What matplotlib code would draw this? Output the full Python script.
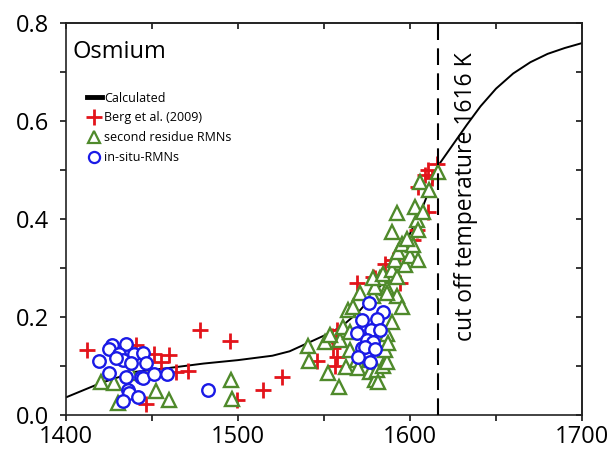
"""
Osmium - fraction vs temperature, calculated curve with measured points.
"""

import matplotlib
matplotlib.use("Agg")
import matplotlib.pyplot as plt
from matplotlib.lines import Line2D
from matplotlib.ticker import MultipleLocator, NullFormatter

plt.rcParams['font.family'] = ['Open Sans', 'DejaVu Sans']

# Calculated curve
calc_t = [1400, 1420, 1440, 1460, 1480, 1500, 1520, 1530, 1540, 1550, 1560,
          1570, 1580, 1590, 1600, 1608, 1617, 1625, 1633, 1641, 1650, 1660,
          1670, 1680, 1690, 1700]
calc_y = [0.036, 0.065, 0.088, 0.096, 0.105, 0.112, 0.121, 0.130, 0.146, 0.162, 0.180,
          0.210, 0.250, 0.300, 0.370, 0.430, 0.512, 0.552, 0.592, 0.630, 0.666, 0.697,
          0.720, 0.737, 0.749, 0.759]

# Berg et al. (2009)
berg_t = [1412, 1440.7, 1451.4, 1460, 1455, 1464, 1470.7, 1477.7, 1495.5, 1446.5,
          1499.5, 1514.7, 1525.7, 1546, 1557.4, 1556.4, 1555.5, 1557.4, 1554.5, 1569,
          1579.7, 1585.5, 1578.7, 1590.3, 1594, 1601.9, 1603.8, 1604.8, 1608.7, 1610.6,
          1612.6, 1615.5, 1610.6]
berg_y = [0.133, 0.143, 0.124, 0.122, 0.109, 0.087, 0.089, 0.174, 0.151, 0.022,
          0.031, 0.051, 0.077, 0.110, 0.119, 0.099, 0.136, 0.173, 0.162, 0.269,
          0.279, 0.309, 0.282, 0.316, 0.269, 0.357, 0.377, 0.466, 0.490, 0.500,
          0.483, 0.513, 0.415]

# second residue RMNs
resid_t = [1420.3, 1428, 1437.8, 1452.3, 1460, 1430, 1495.7, 1496.3, 1540.9, 1541.3,
           1550.6, 1552.5, 1559.3, 1558.9, 1562.5, 1553.5, 1561.3, 1564.2, 1565.1, 1567.1,
           1569, 1565.1, 1570, 1571, 1572.9, 1576.8, 1579.7, 1580.6, 1581.6, 1584.5,
           1586.5, 1585.5, 1586.4, 1587.4, 1589.4, 1578.7, 1582.6, 1586.5, 1590.3, 1592.3,
           1595.2, 1579.7, 1586.4, 1578.7, 1584.5, 1589.3, 1592.2, 1591.2, 1597.1, 1593.2,
           1600, 1604.8, 1595.1, 1601.9, 1598, 1589.3, 1603.8, 1604.8, 1592.6, 1602.9,
           1607.7, 1605.8, 1611.2, 1616.4]
resid_y = [0.068, 0.065, 0.085, 0.048, 0.031, 0.025, 0.071, 0.032, 0.141, 0.110,
           0.150, 0.086, 0.153, 0.058, 0.098, 0.163, 0.180, 0.214, 0.170, 0.221,
           0.112, 0.133, 0.095, 0.250, 0.180, 0.088, 0.071, 0.092, 0.068, 0.099,
           0.109, 0.133, 0.166, 0.146, 0.190, 0.242, 0.279, 0.259, 0.285, 0.242,
           0.221, 0.262, 0.248, 0.279, 0.288, 0.296, 0.282, 0.316, 0.306, 0.333,
           0.324, 0.316, 0.350, 0.347, 0.360, 0.374, 0.398, 0.377, 0.412, 0.425,
           0.415, 0.476, 0.459, 0.495]

# in-situ-RMNs
insitu_t = [1427, 1434.9, 1424.8, 1431, 1439.7, 1445, 1419, 1433, 1437.8, 1446.5,
            1429, 1424.8, 1434.9, 1443.6, 1445, 1451.4, 1459, 1435.9, 1436.8, 1433.3,
            1441.7, 1482.8, 1576.2, 1584.5, 1571.9, 1580.6, 1569.4, 1577.2, 1582.6, 1574.8,
            1578.7, 1571.9, 1573.9, 1570, 1576.8, 1579.7]
insitu_y = [0.143, 0.145, 0.134, 0.124, 0.124, 0.127, 0.111, 0.112, 0.107, 0.107,
            0.116, 0.086, 0.078, 0.078, 0.075, 0.084, 0.083, 0.051, 0.044, 0.029,
            0.037, 0.051, 0.229, 0.211, 0.194, 0.195, 0.167, 0.173, 0.173, 0.154,
            0.149, 0.136, 0.138, 0.119, 0.109, 0.134]

cutoff = 1616

RED = '#e3141b'
GREEN = '#4f8a2b'
BLUE = '#1a1ae6'

fig = plt.figure(figsize=(6.09, 4.5), dpi=100)
ax = fig.add_axes([66 / 609, 35 / 450, 516 / 609, 392 / 450])

ax.plot(calc_t, calc_y, color='black', lw=1.4, zorder=2)
ax.plot(berg_t, berg_y, ls='none', marker='+', ms=11, mew=2, color=RED, zorder=3)
ax.plot(resid_t, resid_y, ls='none', marker='^', ms=10, mew=1.7,
        mec=GREEN, mfc='white', zorder=4)
ax.plot(insitu_t, insitu_y, ls='none', marker='o', ms=9, mew=1.7,
        mec=BLUE, mfc='white', zorder=5)

ax.axvline(cutoff, color='black', lw=1.5, dashes=(8, 4), zorder=6)
ax.text(cutoff + 16.5, 0.446, f"cut off temperature {cutoff} K", rotation=90,
        ha='center', va='center', fontsize=16.5)
ax.text(0.013, 0.911, "Osmium", transform=ax.transAxes, fontsize=17, va='baseline')

handles = [
    Line2D([], [], color='black', lw=3.5),
    Line2D([], [], ls='none', marker='+', ms=11, mew=2, color=RED),
    Line2D([], [], ls='none', marker='^', ms=9, mew=1.6, mec=GREEN, mfc='white'),
    Line2D([], [], ls='none', marker='o', ms=8, mew=1.6, mec=BLUE, mfc='white'),
]
labels = ["Calculated", "Berg et al. (2009)", "second residue RMNs", "in-situ-RMNs"]
ax.legend(handles, labels, loc='upper left', bbox_to_anchor=(0.04, 0.825),
          frameon=False, fontsize=9, handlelength=1.2, handletextpad=0.2,
          labelspacing=0.55, borderpad=0, borderaxespad=0)

ax.set_xlim(1400, 1700)
ax.set_ylim(0, 0.8)
ax.xaxis.set_major_locator(MultipleLocator(100))
ax.xaxis.set_minor_locator(MultipleLocator(50))
ax.yaxis.set_major_locator(MultipleLocator(0.2))
ax.yaxis.set_minor_locator(MultipleLocator(0.1))
ax.yaxis.set_major_formatter(lambda v, p: f"{v:.1f}")
ax.tick_params(which='both', direction='out', length=4, width=1.1,
               labelsize=17, colors='black')
ax.tick_params(axis='y', pad=8)
ax.tick_params(axis='x', pad=3)

# top and right ticks point inward
top = ax.secondary_xaxis('top')
top.xaxis.set_major_locator(MultipleLocator(50))
top.xaxis.set_major_formatter(NullFormatter())
top.tick_params(direction='in', length=4, width=1.1)
right = ax.secondary_yaxis('right')
right.yaxis.set_major_locator(MultipleLocator(0.1))
right.yaxis.set_major_formatter(NullFormatter())
right.tick_params(direction='in', length=4, width=1.1)

for sp in list(ax.spines.values()) + [top.spines['top'], right.spines['right']]:
    sp.set_linewidth(1.2)
    sp.set_color('#222222')

fig.savefig("out.png", dpi=100)
